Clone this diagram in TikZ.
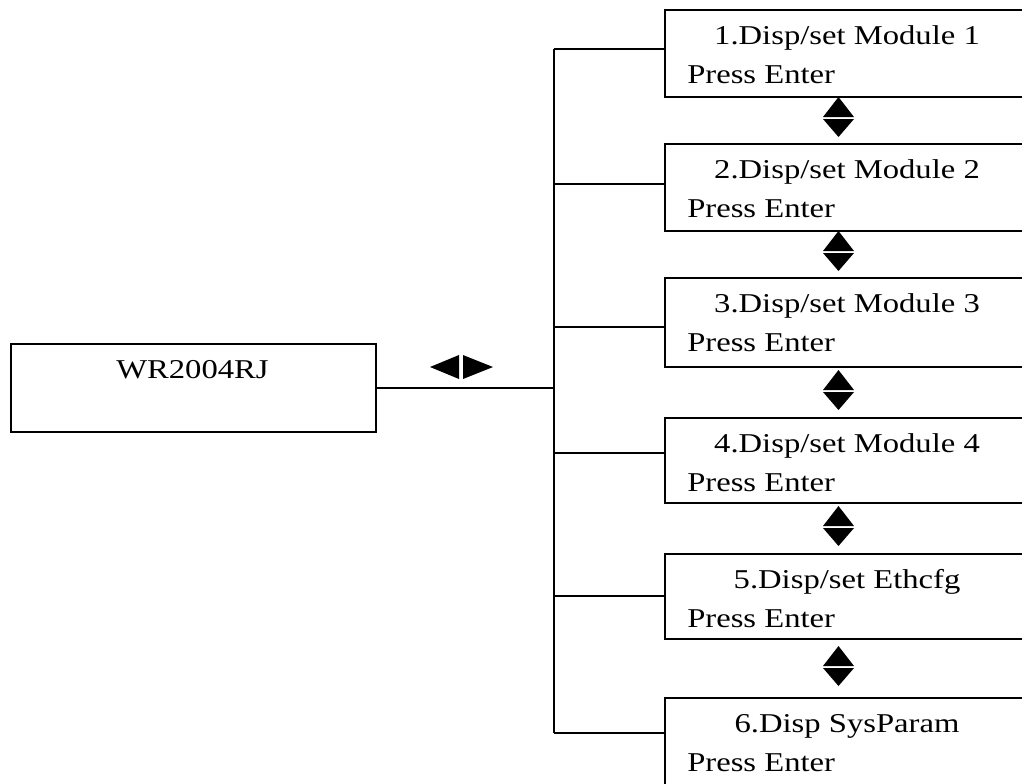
\documentclass[tikz,border=0pt]{standalone}
\usepackage{fontspec}
\setmainfont{Liberation Serif}
\usepackage{graphicx}
\newcommand{\wide}[1]{\scalebox{1.2}[1]{#1}}
\newcommand{\updown}[1]{%
  \fill (823,#1-1) -- (838.5,#1-21) -- (854,#1-1) -- cycle;
  \fill (823,#1+1) -- (838.5,#1+19) -- (854,#1+1) -- cycle;}

\begin{document}
\begin{tikzpicture}[x=0.75pt, y=-0.75pt,
  menubox/.style = {draw, line width=1.4pt, rectangle, anchor=north west,
    minimum width=300pt, minimum height=65pt, inner sep=0pt},
  txt/.style = {anchor=base, inner sep=0pt, font=\fontsize{20.4}{24}\selectfont},
  link/.style = {line width=1.4pt}]
  \path[use as bounding box, clip] (0,0) rectangle (1022,783);

  % main unit
  \node[menubox, minimum width=273.75pt, minimum height=66pt] (wr) at (10,343) {};
  \node[txt] (wrt) at (192.5,378) {\wide{WR2004RJ}};

  % menu items
  \node[menubox] (m1) at (664,9) {};
  \node[txt] (m1a) at (847,44) {\wide{1.Disp/set Module 1}};
  \node[txt, anchor=base west] (m1b) at (687,83) {\wide{Press Enter}};

  \node[menubox] (m2) at (664,143) {};
  \node[txt] (m2a) at (847,178) {\wide{2.Disp/set Module 2}};
  \node[txt, anchor=base west] (m2b) at (687,217) {\wide{Press Enter}};

  \node[menubox, minimum height=66.5pt] (m3) at (664,277) {};
  \node[txt] (m3a) at (847,312) {\wide{3.Disp/set Module 3}};
  \node[txt, anchor=base west] (m3b) at (687,351) {\wide{Press Enter}};

  \node[menubox, minimum height=64pt] (m4) at (664,417) {};
  \node[txt] (m4a) at (847,452) {\wide{4.Disp/set Module 4}};
  \node[txt, anchor=base west] (m4b) at (687,491) {\wide{Press Enter}};

  \node[menubox, minimum height=64pt] (m5) at (664,553) {};
  \node[txt] (m5a) at (847,588) {\wide{5.Disp/set Ethcfg}};
  \node[txt, anchor=base west] (m5b) at (687,627) {\wide{Press Enter}};

  \node[menubox, minimum height=75pt] (m6) at (664,697) {};
  \node[txt] (m6a) at (847,732) {\wide{6.Disp SysParam}};
  \node[txt, anchor=base west] (m6b) at (687,771) {\wide{Press Enter}};

  % trunk and branches
  \coordinate (b1) at (554,49);
  \coordinate (b2) at (554,184);
  \coordinate (b3) at (554,327);
  \coordinate (b4) at (554,453);
  \coordinate (b5) at (554,596);
  \coordinate (b6) at (554,733);
  \draw[link] (b1) -- (b6);
  \draw[link] (wr.east) -- (wr.east -| b1);
  \draw[link] (b1) -- (b1 -| m1.west);
  \draw[link] (b2) -- (b2 -| m2.west);
  \draw[link] (b3) -- (b3 -| m3.west);
  \draw[link] (b4) -- (b4 -| m4.west);
  \draw[link] (b5) -- (b5 -| m5.west);
  \draw[link] (b6) -- (b6 -| m6.west);

  % left/right keys
  \fill (430,367) -- (459,355) -- (459,379) -- cycle;
  \fill (493,367) -- (463,355) -- (463,379) -- cycle;

  % up/down keys
  \updown{118}
  \updown{252}
  \updown{391}
  \updown{527}
  \updown{667}
\end{tikzpicture}
\end{document}
